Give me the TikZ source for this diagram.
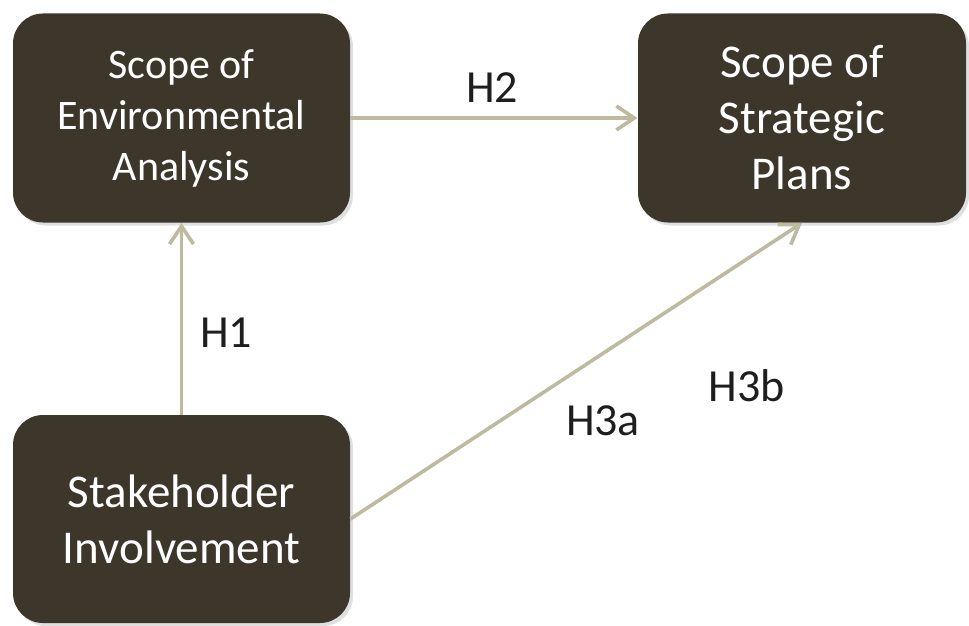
\documentclass[tikz,border=0pt]{standalone}
\usepackage{fontspec}
\setmainfont{Carlito}
\usetikzlibrary{arrows.meta,shadows}
\definecolor{boxbrown}{RGB}{61,54,42}
\definecolor{arrowtan}{RGB}{190,186,160}
\definecolor{labeltext}{RGB}{30,30,30}
\tikzset{
    concept/.style={rectangle, rounded corners=15pt, fill=boxbrown, text=white,
        align=center, minimum width=168.5pt, minimum height=104.5pt,
        drop shadow={opacity=0.25, shadow xshift=1.5pt, shadow yshift=-1.5pt}},
    hyplink/.style={arrowtan, line width=1.8pt,
        -{Straight Barb[length=9pt, width=12pt, line width=1.8pt]}},
    hyplabel/.style={text=labeltext, font=\fontsize{23pt}{27pt}\selectfont, inner sep=0pt}
}
\begin{document}
\begin{tikzpicture}[x=0.5pt, y=-0.5pt]
    \useasboundingbox (0,0) rectangle (969,626);
    % boxes
    \node[concept, font=\fontsize{21pt}{25.5pt}\selectfont] (envanalysis) at (181.5,118)
        {Scope of\\Environmental\\Analysis};
    \node[concept, minimum width=164pt, font=\fontsize{23.5pt}{28pt}\selectfont] (stratplans) at (802,118)
        {Scope of\\Strategic\\Plans};
    \node[concept, minimum height=104pt, font=\fontsize{23.5pt}{28pt}\selectfont] (stakeholder) at (181.5,519)
        {Stakeholder\\Involvement};
    % hypotheses
    \draw[hyplink] (envanalysis.east) -- (stratplans.west);
    \draw[hyplink] (stakeholder.north) -- (envanalysis.south);
    \draw[hyplink] (stakeholder.east) -- (stratplans.south);
    \node[hyplabel] (h2) at (492,88) {H2};
    \node[hyplabel] (h1) at (226,333) {H1};
    \node[hyplabel] (h3a) at (603,421) {H3a};
    \node[hyplabel] (h3b) at (747,386) {H3b};
\end{tikzpicture}
\end{document}
